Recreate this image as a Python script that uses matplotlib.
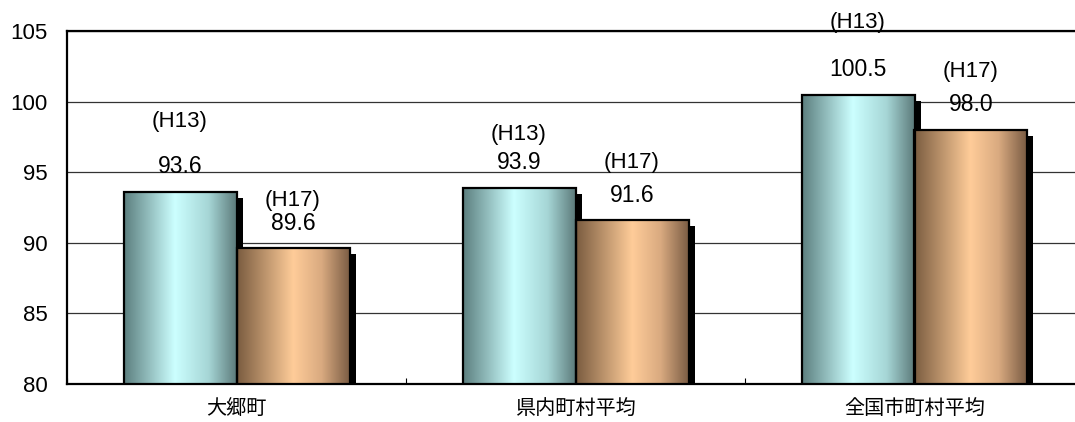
import matplotlib
matplotlib.use("Agg")
import matplotlib.pyplot as plt
import matplotlib.transforms as mtransforms
import numpy as np
from matplotlib.colors import LinearSegmentedColormap

categories = ["大郷町", "県内町村平均", "全国市町村平均"]
h13 = [93.6, 93.9, 100.5]
h17 = [89.6, 91.6, 98.0]
series_labels = ["(H13)", "(H17)"]
yticks = [80, 85, 90, 95, 100, 105]

# distance (px) of the "(Hxx)" tag above each bar top, as placed in the original
tag_gap_h13 = [70, 53, 72]
tag_gap_h17 = [48, 58, 58]

plt.rcParams['font.family'] = ['Liberation Sans', 'Noto Sans CJK JP', 'DejaVu Sans']

fig = plt.figure(figsize=(10.75, 4.22), dpi=100)
ax = fig.add_axes([67 / 1075, 1 - 384 / 422, 1017 / 1075, 353 / 422])

cyan = LinearSegmentedColormap.from_list(
    "cyl_cyan", [(0, "#5c7f7f"), (0.45, "#ccffff"), (0.75, "#a6d6d6"), (1, "#5c7a7a")])
orange = LinearSegmentedColormap.from_list(
    "cyl_orange", [(0, "#7a5c40"), (0.5, "#ffcc99"), (0.75, "#d9aa80"), (1, "#7a5c44")])

x = np.arange(len(categories))
w = 1 / 3
base = yticks[0]

px = 1 / fig.dpi
shadow_tr = ax.transData + mtransforms.ScaledTranslation(6 * px, -6 * px, fig.dpi_scale_trans)

grad = np.linspace(0, 1, 256).reshape(1, -1)
for vals, xs, cmap in [(h13, x - w / 2, cyan), (h17, x + w / 2, orange)]:
    heights = [v - base for v in vals]
    ax.bar(xs, heights, w, bottom=base, color="black", linewidth=0,
           transform=shadow_tr, zorder=2)
    rects = ax.bar(xs, heights, w, bottom=base, facecolor="none",
                   edgecolor="black", linewidth=1.6, zorder=4)
    for r in rects:
        im = ax.imshow(grad, cmap=cmap, aspect="auto", zorder=3,
                       extent=[r.get_x(), r.get_x() + r.get_width(), base, base + r.get_height()])
        im.set_clip_path(r)

ax.set_xlim(-0.5, len(categories) - 0.5)
ax.set_ylim(yticks[0], yticks[-1])

# value labels and year tags
for vals, xs, gaps, tag in [(h13, x - w / 2, tag_gap_h13, series_labels[0]),
                            (h17, x + w / 2, tag_gap_h17, series_labels[1])]:
    for xi, v, g in zip(xs, vals, gaps):
        ax.annotate(f"{v:.1f}", (xi, v), xytext=(0, 25 * 0.72), textcoords="offset points",
                    ha="center", va="center", fontsize=16.5, zorder=6)
        ax.annotate(tag, (xi, v), xytext=(0, g * 0.72), textcoords="offset points",
                    ha="center", va="center", fontsize=16, zorder=6, annotation_clip=False)

ax.set_yticks(yticks)
ax.set_yticklabels([str(t) for t in yticks])
ax.yaxis.grid(True, color="#333333", linewidth=0.9, zorder=1)
ax.set_axisbelow(True)
ax.tick_params(axis="y", length=0, pad=14, labelsize=16)

ax.set_xticks(x)
ax.set_xticklabels(categories, fontsize=14.5)
ax.tick_params(axis="x", length=0, pad=11)
ax.set_xticks(np.arange(len(categories) + 1) - 0.5, minor=True)
ax.tick_params(axis="x", which="minor", direction="in", length=4, width=0.8, color="black")

for s in ["left", "top", "bottom"]:
    ax.spines[s].set_linewidth(1.6)
    ax.spines[s].set_color("black")
ax.spines["right"].set_visible(False)

fig.savefig("out.png", dpi=100, facecolor="white")
